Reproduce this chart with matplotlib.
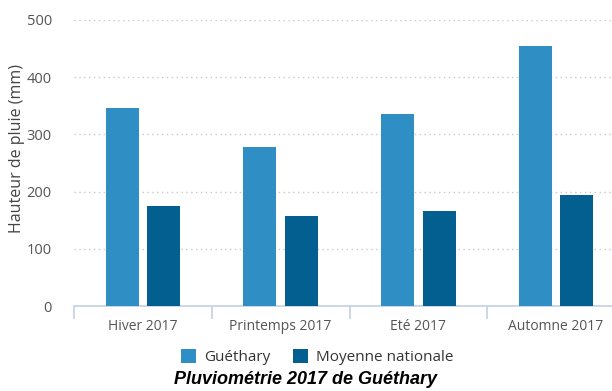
import matplotlib.pyplot as plt
import numpy as np

# data
seasons = ['Hiver 2017', 'Printemps 2017', 'Eté 2017', 'Automne 2017']
guethary = [346, 278, 336, 455]
moyenne = [175, 157, 166, 194]
series_names = ['Guéthary', 'Moyenne nationale']
colors = ['#2f8fc4', '#035f8f']
yticks = [0, 100, 200, 300, 400, 500]

W, H = 612, 391
fig = plt.figure(figsize=(W / 100, H / 100), dpi=100)
ax = fig.add_axes([74 / W, (H - 306) / H, 551 / W, 286 / H])

x = np.arange(len(seasons))
width = 0.24
off = 0.15
b1 = ax.bar(x - off, guethary, width, color=colors[0], label=series_names[0], zorder=3)
b2 = ax.bar(x + off, moyenne, width, color=colors[1], label=series_names[1], zorder=3)

ax.set_xlim(-0.5, 3.5)
ax.set_ylim(0, 500)
ax.set_yticks(yticks)
ax.yaxis.grid(True, linestyle=(0, (1, 2.5)), color='#c8c8c8', linewidth=1, zorder=0)

for s in ['top', 'right', 'left']:
    ax.spines[s].set_visible(False)
ax.spines['bottom'].set_color('#c2d1e3')
ax.spines['bottom'].set_linewidth(1.2)

# category ticks sit on the boundaries, labels in the middle
ax.set_xticks(np.arange(len(seasons) + 1) - 0.5)
ax.set_xticklabels([])
ax.set_xticks(x, minor=True)
ax.set_xticklabels(seasons, minor=True)
ax.tick_params(axis='x', which='major', length=9, color='#c2d1e3', width=1.2)
ax.tick_params(axis='x', which='minor', length=0, pad=9, labelsize=10, labelcolor='#555555')
ax.tick_params(axis='y', length=0, pad=16, labelsize=10.5, labelcolor='#555555')
for lab in ax.get_xticklabels(minor=True) + ax.get_yticklabels():
    lab.set_fontfamily('Open Sans')

ax.set_ylabel('Hauteur de pluie (mm)', fontsize=11.5, color='#444444',
              fontfamily='Open Sans')
ax.yaxis.set_label_coords((25 - 74) / 551, (306 - 148) / 286)

fig.legend(handles=[b1, b2], loc='center', bbox_to_anchor=(317 / W, 1 - 357 / H),
           ncol=2, frameon=False, handlelength=1.0, handleheight=1.0,
           handletextpad=0.5, columnspacing=1.5,
           prop={'family': 'Open Sans', 'size': 11})
for t in fig.legends[0].get_texts():
    t.set_color('#333333')

fig.text(306 / W, 1 - 380 / H, 'Pluviométrie 2017 de Guéthary', ha='center', va='center',
         fontsize=13, fontweight='bold', fontstyle='italic', fontfamily='Liberation Sans')

fig.savefig('out.png', dpi=100)
